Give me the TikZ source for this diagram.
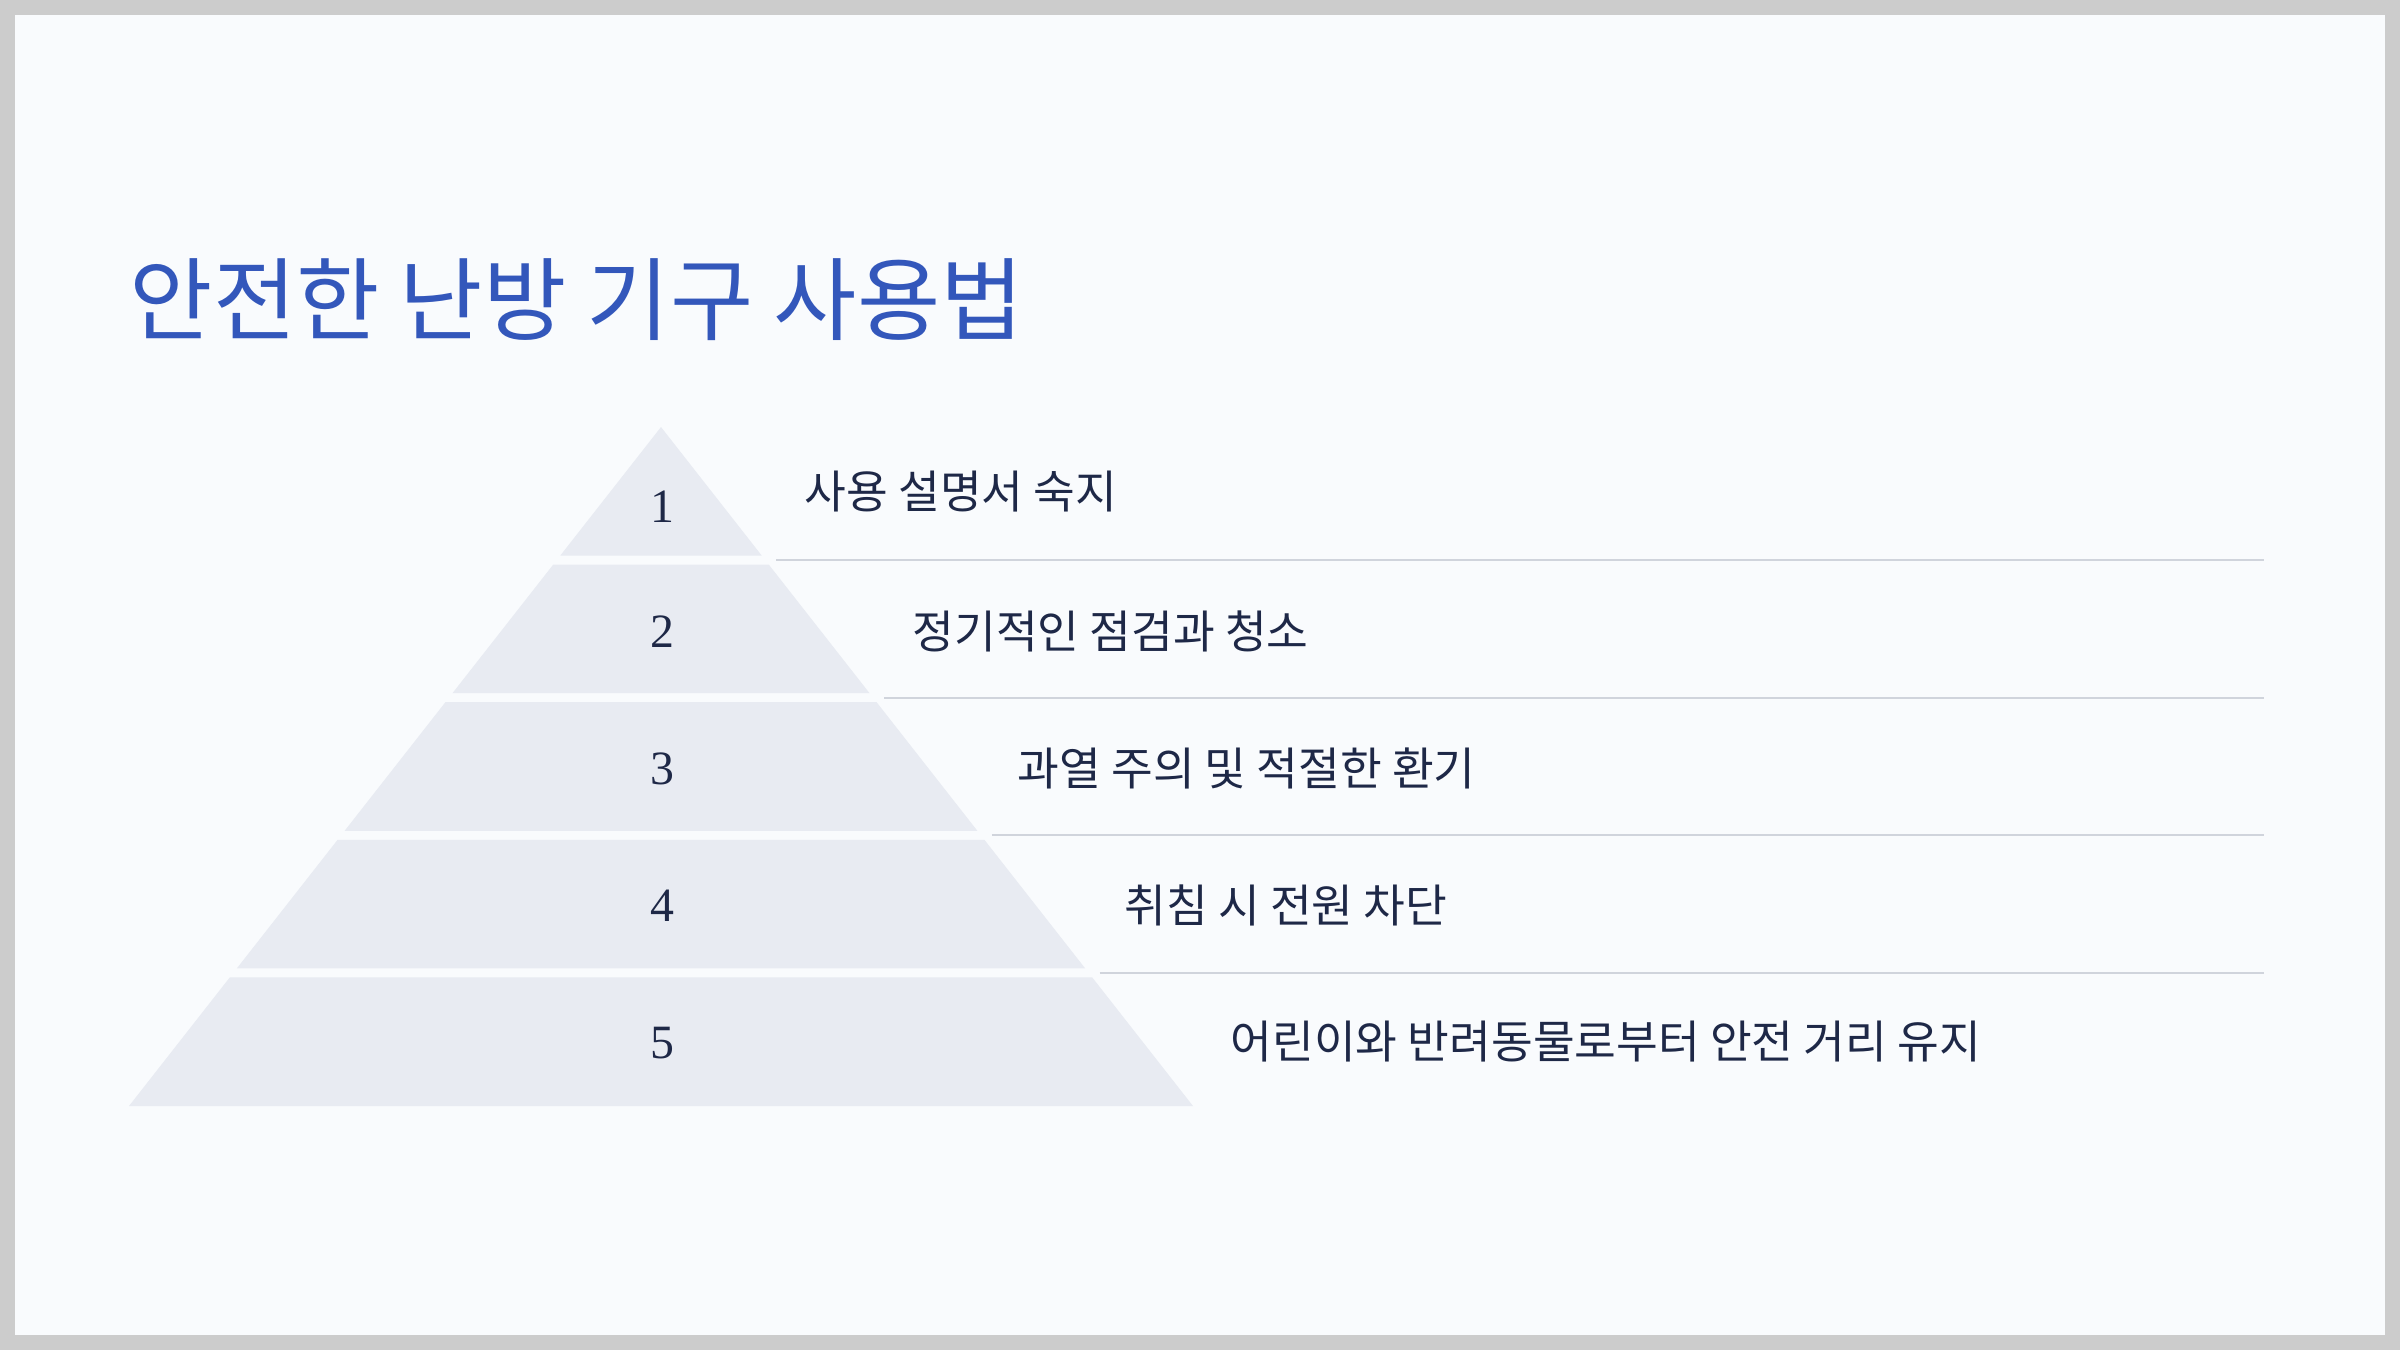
\documentclass[tikz,border=0pt]{standalone}
\usepackage{fontspec}
\newfontfamily\krfont{Noto Sans CJK KR}
\newfontfamily\numfont{Liberation Serif}
\definecolor{framegray}{HTML}{CCCCCC}
\definecolor{pagebg}{HTML}{F9FBFD}
\definecolor{layerfill}{HTML}{E8EBF2}
\definecolor{rulegray}{HTML}{D0D4DC}
\definecolor{inkdark}{HTML}{1E2847}
\definecolor{titleblue}{HTML}{3357BB}
\tikzset{
  titletext/.style={anchor=west, inner sep=0pt, text=titleblue, font=\krfont\fontsize{25.75pt}{30pt}\selectfont},
  itemtext/.style={anchor=west, inner sep=0pt, text=inkdark, font=\krfont\fontsize{12.9pt}{15pt}\selectfont},
  numtext/.style={anchor=center, inner sep=0pt, text=inkdark, font=\numfont\fontsize{13.6pt}{16pt}\selectfont},
  layershape/.style={fill=layerfill},
  divider/.style={draw=rulegray, line width=0.6pt}
}
\begin{document}
\begin{tikzpicture}[x=0.01cm,y=-0.01cm]
\fill[framegray] (0,0) rectangle (2400,1350);
\fill[pagebg] (15,15) rectangle (2385,1335);
\useasboundingbox (0,0) rectangle (2400,1350);

\node[titletext] (title) at (129,300) {안전한 난방 기구 사용법};

\foreach \i in {0,...,4} {
  \pgfmathsetmacro\yt{427+137.6*\i}
  \pgfmathsetmacro\yb{\yt+128.6}
  \pgfmathsetmacro\wt{0.7835*(\yt-427)}
  \pgfmathsetmacro\wb{0.7835*(\yb-427)}
  \fill[layershape] ({661-\wt},\yt) -- ({661+\wt},\yt) -- ({661+\wb},\yb) -- ({661-\wb},\yb) -- cycle;
}
\foreach \i in {1,...,4} {
  \pgfmathsetmacro\yl{427+137.6*\i-4.5}
  \pgfmathsetmacro\xl{661+0.7835*(\yl-427)+11}
  \coordinate (divstart\i) at (\xl,\yl);
  \coordinate (divend\i) at (2264,\yl);
  \draw[divider] (divstart\i) -- (divend\i);
}

\node[numtext] (num1) at (662,507) {1};
\node[numtext] (num2) at (662,632) {2};
\node[numtext] (num3) at (662,769) {3};
\node[numtext] (num4) at (662,906) {4};
\node[numtext] (num5) at (662,1043) {5};

\node[itemtext] (item1) at (804,492) {사용 설명서 숙지};
\node[itemtext] (item2) at (912,631) {정기적인 점검과 청소};
\node[itemtext] (item3) at (1017,768) {과열 주의 및 적절한 환기};
\node[itemtext] (item4) at (1124,905) {취침 시 전원 차단};
\node[itemtext] (item5) at (1230,1042) {어린이와 반려동물로부터 안전 거리 유지};
\end{tikzpicture}
\end{document}
